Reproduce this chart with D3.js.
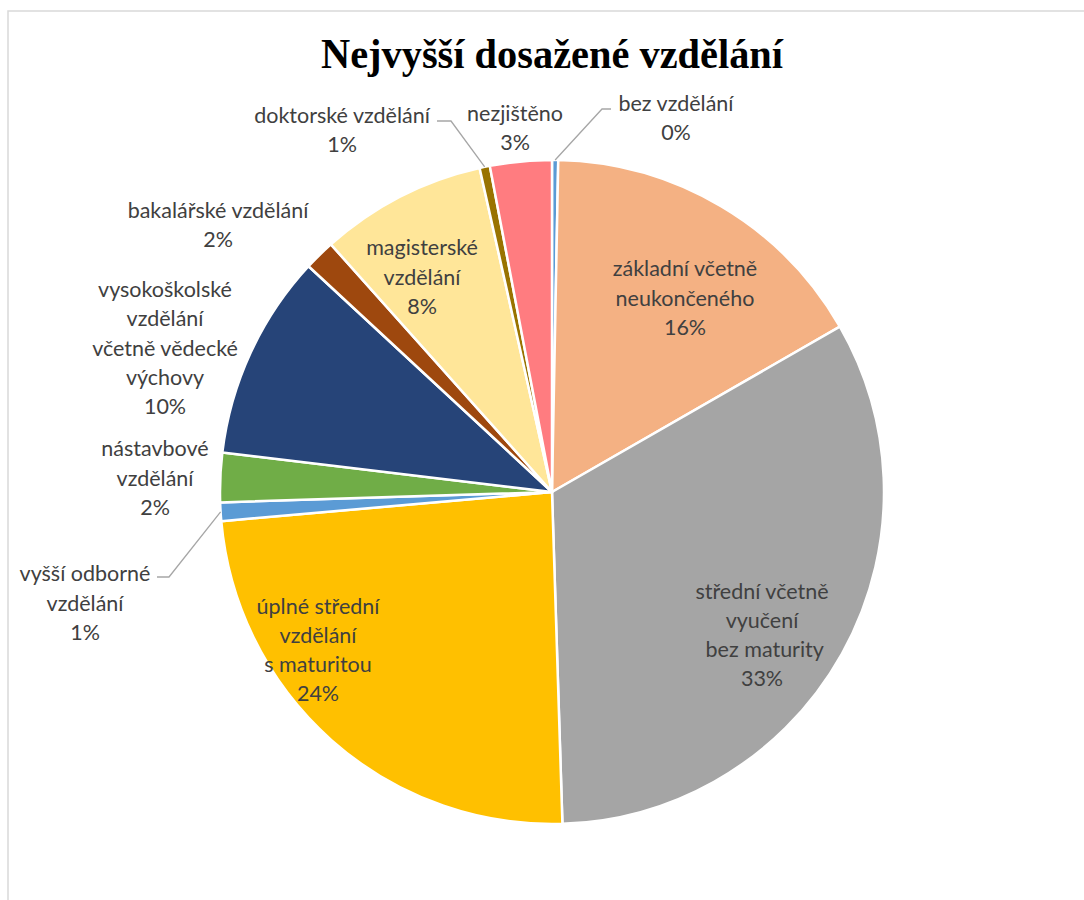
<!DOCTYPE html>
<html>
<head>
<meta charset="utf-8">
<script src="https://cdn.jsdelivr.net/npm/d3@7"></script>
<style>
  body { margin: 0; background: #fff; }
  .lbl { font-family: Lato, "Open Sans", sans-serif; font-size: 21.5px; fill: #404040; }
</style>
</head>
<body>
<svg id="chart" width="1084" height="900"></svg>
<script>
// categories, clockwise from 12 o'clock
const categories = [
  "bez vzdělání",
  "základní včetně neukončeného",
  "střední včetně vyučení bez maturity",
  "úplné střední vzdělání s maturitou",
  "vyšší odborné vzdělání",
  "nástavbové vzdělání",
  "vysokoškolské vzdělání včetně vědecké výchovy",
  "bakalářské vzdělání",
  "magisterské vzdělání",
  "doktorské vzdělání",
  "nezjištěno",
];
// share in percent
const values = [0.3, 16.4, 32.8, 24.1, 0.9, 2.4, 10.0, 1.5, 8.1, 0.5, 3.0];
// label text lines (percent is appended)
const labelLines = [
  ["bez vzdělání"],
  ["základní včetně", "neukončeného"],
  ["střední včetně", "vyučení", " bez maturity"],
  ["úplné střední", "vzdělání", "s maturitou"],
  ["vyšší odborné", "vzdělání"],
  ["nástavbové", "vzdělání"],
  ["vysokoškolské", "vzdělání", "včetně vědecké", "výchovy"],
  ["bakalářské vzdělání"],
  ["magisterské", "vzdělání"],
  ["doktorské vzdělání"],
  ["nezjištěno"],
];
const colors = [
  "#5b9bd5", "#f4b183", "#a5a5a5", "#ffc000", "#5b9bd5", "#70ad47",
  "#264478", "#9e480e", "#ffe699", "#997300", "#ff7c80",
];

// label block centres relative to pie centre, and leader elbows (null = none)
const labelPos = [
  [124, -374], [133, -194], [210, 143], [-234, 158], [-467, 111], [-397, -14],
  [-387, -144], [-334, -267], [-130, -215], [-210, -362], [-37, -364],
];
const leaderElbow = [
  [[50, -383], [59, -383]], null, null, null,
  [[-383, 85], [-395, 85]], null, null, null, null,
  [[-101, -371], [-115, -371]], null,
];

const width = 1084, height = 900;
const cx = 552, cy = 492, radius = 332;
const lineH = 29.3;

const svg = d3.select("#chart");

// frame of the chart area
svg.append("rect")
  .attr("x", 8).attr("y", 11)
  .attr("width", width + 20).attr("height", height + 20)
  .attr("fill", "none")
  .attr("stroke", "#d9d9d9")
  .attr("stroke-width", 1.5);

svg.append("text")
  .attr("x", cx)
  .attr("y", 68)
  .attr("text-anchor", "middle")
  .attr("textLength", 462)
  .attr("lengthAdjust", "spacingAndGlyphs")
  .style("font-family", "'Liberation Serif', serif")
  .style("font-weight", "bold")
  .style("font-size", "42px")
  .style("fill", "#000")
  .text("Nejvyšší dosažené vzdělání");

const data = categories.map((c, i) => ({ name: c, value: values[i], i }));
const total = d3.sum(values);

const pie = d3.pie().value((d) => d.value).sort(null);
const arc = d3.arc().innerRadius(0).outerRadius(radius);
const arcs = pie(data);

const g = svg.append("g").attr("transform", `translate(${cx},${cy})`);

g.selectAll(".slice")
  .data(arcs)
  .join("path")
  .attr("class", "slice")
  .attr("d", arc)
  .attr("fill", (d) => colors[d.data.i])
  .attr("stroke", "#fff")
  .attr("stroke-width", 2.5)
  .attr("stroke-linejoin", "round");

// leader lines
arcs.forEach((d) => {
  const elbow = leaderElbow[d.data.i];
  if (!elbow) return;
  const a = (d.startAngle + d.endAngle) / 2;
  const start = [Math.sin(a) * radius, -Math.cos(a) * radius];
  g.append("polyline")
    .attr("points", [start, ...elbow].map((p) => p.join(",")).join(" "))
    .attr("fill", "none")
    .attr("stroke", "#a6a6a6")
    .attr("stroke-width", 1.3);
});

// labels
arcs.forEach((d) => {
  const i = d.data.i;
  const lines = labelLines[i].concat([Math.round((d.data.value / total) * 100) + "%"]);
  const [lx, ly] = labelPos[i];
  const t = g.append("text")
    .attr("class", "lbl")
    .attr("text-anchor", "middle")
    .attr("xml:space", "preserve");
  const top = ly - ((lines.length - 1) * lineH) / 2;
  lines.forEach((s, k) => {
    t.append("tspan")
      .attr("x", lx)
      .attr("y", top + k * lineH)
      .attr("dy", "0.35em")
      .text(s);
  });
});
</script>
</body>
</html>
